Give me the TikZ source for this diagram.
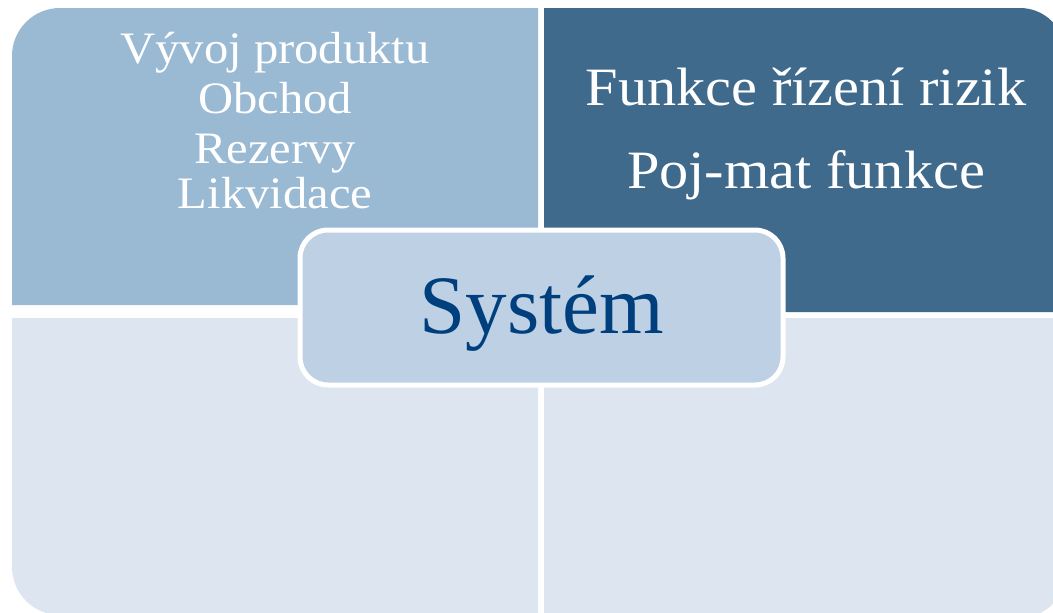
\documentclass[tikz,border=0pt]{standalone}
\usepackage{fontspec}
\setmainfont{Liberation Serif}
\definecolor{qtl}{HTML}{9AB9D3}
\definecolor{qtr}{HTML}{3F6A8C}
\definecolor{qbot}{HTML}{DDE6F0}
\definecolor{qmid}{HTML}{BDD0E4}
\definecolor{qtxt}{HTML}{003F7D}
\tikzset{
  lbl/.style={anchor=base, text=white, inner sep=0pt, xscale=1.08},
  lsmall/.style={lbl, font=\fontsize{45}{50}\selectfont},
  lbig/.style={lbl, font=\fontsize{54}{60}\selectfont},
  centerbox/.style={draw=white, line width=5pt, fill=qmid, rounded corners=28pt},
}
\begin{document}
\begin{tikzpicture}[x=1pt,y=-1pt]
\useasboundingbox (0,0) rectangle (1053,613);
\fill[white] (0,0) rectangle (1053,613);
\begin{scope}
\clip (0,0) rectangle (1053,613);
% top-left
\fill[qtl] (12,305) -- (12,56) arc[start angle=180,end angle=90,radius=48pt] -- (538,8) -- (538,305) -- cycle;
% top-right
\fill[qtr] (544,8) -- (1020,8) arc[start angle=90,end angle=0,radius=45pt] -- (1065,312) -- (544,312) -- cycle;
% bottom-left
\fill[qbot] (12,318) -- (538,318) -- (538,615) -- (60,615) arc[start angle=270,end angle=180,radius=48pt] -- cycle;
% bottom-right
\fill[qbot] (544,318) -- (1065,318) -- (1065,573) arc[start angle=0,end angle=-90,radius=45pt] -- (544,618) -- cycle;
\end{scope}
\node[lsmall] (l1) at (275,63) {Vývoj produktu};
\node[lsmall] (l2) at (275,113) {Obchod};
\node[lsmall] (l3) at (275,163) {Rezervy};
\node[lsmall] (l4) at (275,208) {Likvidace};
\node[lbig] (r1) at (806,105) {Funkce řízení rizik};
\node[lbig] (r2) at (806,188) {Poj-mat funkce};
\draw[centerbox] (300,230) rectangle (783,385);
\node[anchor=base, inner sep=0pt, text=qtxt, font=\fontsize{83}{90}\selectfont] (sys) at (542,333) {Systém};
\end{tikzpicture}
\end{document}
